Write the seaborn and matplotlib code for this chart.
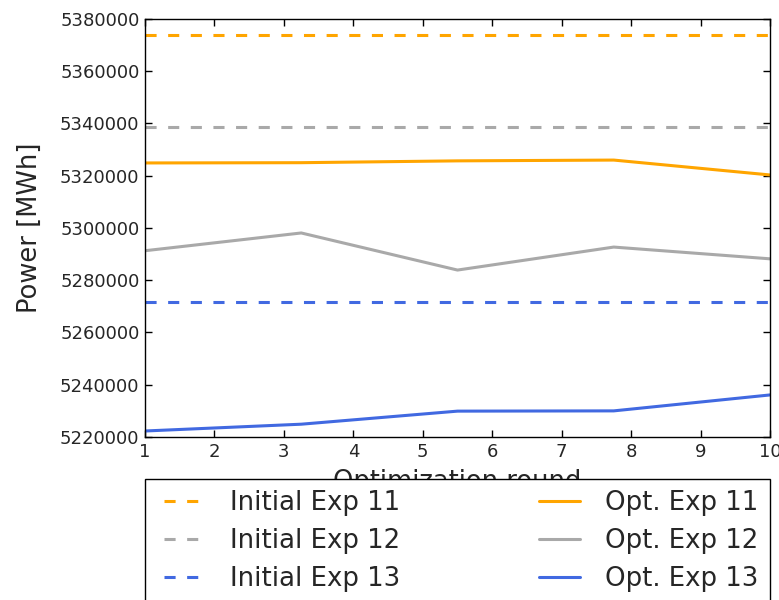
import numpy as np
import pandas as pd
import matplotlib
matplotlib.use("Agg")
import matplotlib.pyplot as plt
from matplotlib.lines import Line2D
from matplotlib.legend_handler import HandlerLine2D
from matplotlib.ticker import ScalarFormatter
import seaborn as sns

# Optimization rounds and yearly power per experiment
rounds = [1.0, 3.25, 5.5, 7.75, 10.0]
initial_exp11 = 5373900
initial_exp12 = 5338700
initial_exp13 = 5271700
opt_exp11 = [5324900, 5325000, 5325700, 5326000, 5320300]
opt_exp12 = [5291300, 5298100, 5283900, 5292700, 5288200]
opt_exp13 = [5222300, 5224900, 5229900, 5230000, 5236100]

series_names = ["Initial Exp 11", "Initial Exp 12", "Initial Exp 13",
                "Opt. Exp 11", "Opt. Exp 12", "Opt. Exp 13"]
series_values = [
    [initial_exp11] * len(rounds),
    [initial_exp12] * len(rounds),
    [initial_exp13] * len(rounds),
    opt_exp11, opt_exp12, opt_exp13,
]
colors = ["#FFA500", "#A9A9A9", "#4169E1", "#FFA500", "#A9A9A9", "#4169E1"]

rows = []
for name, vals in zip(series_names, series_values):
    for r, v in zip(rounds, vals):
        rows.append({"round": r, "power": v, "series": name})
df = pd.DataFrame(rows)

sns.set_style("ticks")
plt.rcParams.update({
    "font.family": ["DejaVu Sans"],
    "xtick.direction": "in",
    "ytick.direction": "in",
    "xtick.top": True,
    "ytick.right": True,
    "axes.edgecolor": "black",
    "axes.linewidth": 1.0,
    "lines.scale_dashes": False,
    "text.color": "#262626",
    "axes.labelcolor": "#262626",
    "xtick.color": "black",
    "ytick.color": "black",
    "xtick.labelcolor": "#262626",
    "ytick.labelcolor": "#262626",
})

DASH = (8.0, 8.3)

fig = plt.figure(figsize=(7.79, 6.0), dpi=100)
ax = fig.add_axes([145 / 779, 1 - 437 / 600, (770 - 145) / 779, (437 - 19) / 600])

palette = dict(zip(series_names, colors))
dash_map = {n: (DASH if n.startswith("Initial") else "") for n in series_names}

sns.lineplot(data=df, x="round", y="power", hue="series", style="series",
             hue_order=series_names, style_order=series_names,
             palette=palette, dashes=dash_map, linewidth=2.2, ax=ax,
             legend=False, estimator=None, sort=False)

ax.set_xlim(1, 10)
ax.set_ylim(5220000, 5380000)
ax.set_xticks(range(1, 11))
ax.set_yticks(np.arange(5220000, 5380001, 20000))
fmt = ScalarFormatter(useOffset=False)
fmt.set_scientific(False)
ax.yaxis.set_major_formatter(fmt)
ax.tick_params(axis="both", labelsize=13, length=5, width=1, pad=4)
ax.set_xlabel("Optimization round", fontsize=18.5, labelpad=6)
ax.set_ylabel("Power [MWh]", fontsize=18.5, labelpad=12)

handles = []
for name, c in zip(series_names, colors):
    ls = (0, DASH) if name.startswith("Initial") else "-"
    handles.append(Line2D([], [], color=c, lw=2.2, linestyle=ls))

leg = ax.legend(handles, series_names, loc="upper left",
                bbox_to_anchor=(0, -0.1, 1, 0.0), mode="expand", ncol=2,
                fontsize=18.7, frameon=True, fancybox=False, framealpha=1,
                edgecolor="black", handlelength=1.88, handletextpad=0.95,
                labelspacing=0.45, borderpad=0.45, borderaxespad=0,
                handler_map={Line2D: HandlerLine2D(xpad=0.3)})
leg.get_frame().set_linewidth(1.0)

fig.savefig("out.png", dpi=100)
